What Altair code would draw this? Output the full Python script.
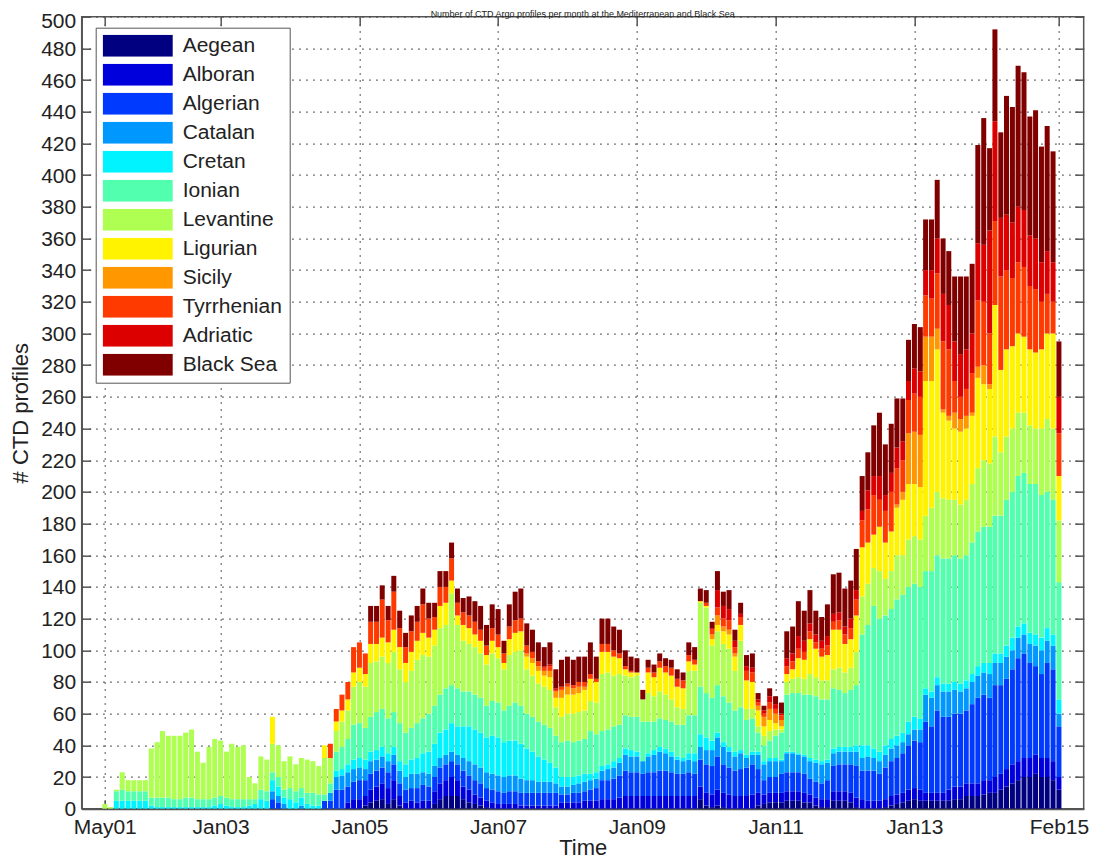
import altair as alt
import pandas as pd

title_text = "Number of CTD Argo profiles per month at the Mediterranean and Black Sea"
regions = ["Aegean", "Alboran", "Algerian", "Catalan", "Cretan", "Ionian",
           "Levantine", "Ligurian", "Sicily", "Tyrrhenian", "Adriatic", "Black Sea"]
colors = ["#000080", "#0000dc", "#003aff", "#0097ff", "#00f3ff", "#51ffae",
          "#aeff51", "#fff300", "#ff9700", "#ff3a00", "#dc0000", "#800000"]
first_month = "2001-05-01"
n_months = 166

aegean = [
    0,0,0,0,0,0,0,0,0,0, 0,0,0,0,0,0,0,0,0,0, 0,0,0,0,0,0,0,0,0,0, 0,0,0,0,0,0,0,0,0,0,
    0,0,0,0,0,2,4,5,6,3, 6,2,0,0,0,0,0,3,6,8, 8,8,6,4,3,2,1,0,0,0, 0,0,0,0,0,0,0,0,0,0,
    0,0,0,0,0,0,0,0,0,0, 0,0,0,0,0,0,0,0,0,0, 0,0,0,6,2,1,2,1,0,0, 0,0,0,2,3,4,4,4,5,5,
    5,4,4,2,1,1,5,5,5,4, 1,0,0,0,0,1,2,3,4,5, 6,5,5,5,5,5,5,6,6,8, 8,8,9,10,10,12,14,16,18,20,
    20,22,20,20,18,12]
alboran = [
    0,0,0,0,0,0,0,0,0,0, 0,0,0,0,0,0,0,0,0,0, 0,0,0,0,0,0,0,0,0,0, 0,0,0,0,0,0,0,0,0,0,
    0,0,4,6,6,6,8,9,10,10, 12,6,4,5,4,5,5,8,10,10, 12,10,8,8,6,5,4,4,3,3, 3,3,2,2,2,2,2,2,2,4,
    4,4,4,5,5,5,6,6,6,7, 8,8,8,8,8,8,8,8,8,8, 8,8,8,8,8,8,10,9,9,8, 8,8,9,8,6,6,6,6,6,6,
    6,6,5,5,5,5,6,6,6,6, 6,6,5,5,5,5,6,6,6,7, 7,7,5,5,5,5,7,8,8,8, 8,8,9,8,10,10,11,12,12,12,
    12,12,12,12,12,8]
algerian = [
    0,0,0,0,0,0,0,0,0,0, 0,0,0,0,0,0,0,0,0,0, 0,0,0,0,0,0,0,0,0,6, 4,0,0,0,0,0,0,0,5,5,
    12,12,10,11,12,10,10,10,10,10, 10,8,8,8,9,10,9,9,10,10, 10,10,10,9,9,9,8,8,8,7, 8,8,8,8,8,8,8,8,8,5,
    5,6,6,6,7,8,12,12,13,14, 16,15,15,14,15,15,16,16,15,14, 14,15,14,17,18,18,21,18,17,16, 17,18,19,15,9,10,10,12,12,12,
    12,12,10,10,10,12,16,17,17,18, 20,18,19,19,17,20,22,23,25,28, 30,30,45,42,52,48,46,46,46,46, 50,54,54,52,58,56,57,60,65,66,
    60,56,53,60,58,32]
catalan = [
    0,0,0,0,0,0,0,0,0,0, 0,0,0,0,0,0,0,0,0,0, 0,0,0,0,0,0,0,0,0,5, 4,3,0,0,2,0,0,0,0,5,
    8,9,9,8,8,7,8,7,7,7, 6,8,8,9,9,8,8,7,6,6, 6,6,8,9,10,10,10,10,10,10, 10,10,9,8,8,7,7,7,6,5,
    5,5,6,6,6,6,6,7,7,8, 10,10,10,8,10,11,12,11,10,9, 8,8,8,8,9,10,12,11,10,9, 10,6,6,9,10,10,10,8,12,12,
    11,11,11,12,12,11,8,8,8,8, 9,8,9,8,8,8,8,8,7,7, 7,8,17,18,16,16,16,15,14,14, 14,14,14,15,14,14,14,12,13,12,
    12,13,15,14,15,8]
cretan = [
    0,0,5,5,5,5,5,5,2,1, 1,1,1,1,1,1,1,1,1,2, 3,2,1,1,1,2,3,6,5,7, 6,4,6,4,5,3,2,2,0,0,
    4,4,5,6,6,6,6,6,6,5, 5,6,8,9,10,12,14,14,16,16, 18,18,20,22,22,22,22,24,24,22, 22,22,22,20,18,16,14,12,10,6,
    6,5,5,5,4,4,3,3,4,3, 4,4,3,0,2,3,3,3,3,2, 2,4,5,8,8,6,3,3,3,3, 2,2,2,2,2,2,2,1,1,1,
    1,1,2,2,2,2,3,3,3,3, 4,8,7,6,6,6,6,6,6,8, 8,7,4,4,5,5,5,5,5,5, 5,6,6,7,6,6,7,8,7,7,
    7,7,8,8,7,9]
ionian = [
    0,0,6,7,6,6,6,6,5,6, 6,6,5,5,6,6,5,5,5,5, 5,5,5,5,5,4,3,6,6,5, 6,5,7,7,6,7,8,7,4,6,
    12,14,16,22,22,20,22,24,24,22, 22,24,20,20,22,22,24,24,24,26, 24,24,22,22,22,22,20,22,22,20, 22,24,24,22,22,22,22,22,20,22,
    23,22,22,22,27,24,22,22,22,21, 21,21,22,25,20,18,18,18,19,20, 21,24,24,30,28,27,30,29,28,26, 27,22,21,12,10,11,14,17,36,37,
    38,38,40,40,39,38,38,36,34,36, 38,70,76,90,84,82,82,86,87,85, 84,83,74,76,77,79,79,80,79,79, 83,85,86,86,87,87,92,92,95,95,
    94,95,90,86,85,74]
levantine = [
    3,1,1,11,7,7,7,7,31,35, 42,39,40,40,41,43,30,23,33,37, 35,29,35,33,34,14,10,21,20,18, 20,18,20,17,19,21,20,18,23,16,
    13,16,18,24,26,26,34,32,33,35, 38,34,32,36,40,40,36,38,42,40, 58,40,32,30,30,28,26,30,28,26, 32,32,35,28,26,24,24,24,18,16,
    17,18,18,18,19,20,36,36,32,32, 25,25,26,14,18,16,17,16,14,11, 10,28,28,53,54,33,34,33,34,25, 42,7,6,4,6,6,4,2,8,9,
    10,10,13,12,12,12,12,14,13,14, 21,24,26,24,30,23,24,28,25,30, 30,30,35,40,40,38,37,35,34,35, 37,40,42,40,50,40,40,40,40,38,
    37,35,42,46,45,39]
ligurian = [
    0,0,0,0,0,0,0,0,0,0, 0,0,0,0,0,0,0,0,0,0, 0,0,0,0,0,0,0,0,0,17, 0,0,0,0,0,0,0,0,8,0,
    6,7,7,9,9,8,12,11,12,13, 14,14,12,12,12,14,12,10,14,14, 8,6,10,10,8,8,6,8,7,4, 10,12,12,8,8,8,7,8,6,12,
    12,12,12,13,14,13,14,13,12,10, 4,3,2,0,13,12,15,14,15,13, 13,6,4,1,1,4,4,8,9,9, 10,18,17,10,6,7,4,2,5,6,
    12,12,22,18,15,16,25,24,18,18, 23,31,26,21,28,23,25,30,35,35, 33,33,85,80,90,54,50,45,46,45, 43,57,48,47,83,52,55,52,50,48,
    48,48,50,54,60,28]
sicily = [
    0,0,0,0,0,0,0,0,0,0, 0,0,0,0,0,0,0,0,0,0, 0,0,0,0,0,0,0,0,0,0, 0,0,0,0,0,0,0,0,0,0,
    0,0,0,0,0,0,0,0,0,0, 0,0,0,0,0,0,0,0,0,0, 0,0,0,0,0,0,0,0,0,0, 0,0,0,2,3,3,3,4,4,5,
    5,4,4,2,0,0,0,0,0,0, 0,0,0,0,0,0,0,0,0,0, 0,0,0,0,0,3,6,3,3,2, 0,0,0,3,6,7,6,4,0,0,
    0,0,0,0,0,0,0,0,0,0, 0,0,0,0,0,0,0,2,5,32, 33,33,28,28,13,2,3,10,8,8, 2,7,12,3,0,0,0,0,0,0,
    0,0,0,0,0,0]
tyrrhenian = [
    0,0,0,0,0,0,0,0,0,0, 0,0,0,0,0,0,0,0,0,0, 0,0,0,0,0,0,0,0,0,0, 0,0,0,0,0,0,0,0,0,9,
    8,10,11,16,16,13,14,14,24,14, 24,12,10,13,12,18,12,8,12,10, 14,8,8,8,8,7,6,8,8,6, 8,8,8,5,4,3,2,3,1,2,
    2,2,3,3,3,2,5,5,4,3, 2,1,0,0,3,3,4,4,5,5, 5,4,3,0,2,3,5,5,6,4, 5,6,6,2,2,4,3,3,5,5,
    6,5,5,4,5,6,5,6,6,7, 10,17,21,25,17,20,25,23,20,21, 24,24,26,24,35,43,42,20,14,17, 25,42,40,32,53,59,50,43,45,44,
    40,40,30,25,20,27]
adriatic = [
    0,0,0,0,0,0,0,0,0,0, 0,0,0,0,0,0,0,0,0,0, 0,0,0,0,0,0,0,0,0,0, 0,0,0,0,0,0,0,0,0,0,
    0,0,0,0,0,0,0,0,0,0, 0,0,0,0,0,0,0,0,0,0, 0,0,0,0,0,0,0,0,0,0, 0,0,0,0,0,0,1,1,1,0,
    0,0,0,0,0,0,0,0,0,0, 0,0,0,0,0,0,0,0,0,0, 0,0,0,0,0,1,11,8,7,4, 2,3,3,2,2,4,3,1,5,5,
    8,7,5,5,5,6,5,5,5,6, 6,6,12,12,15,10,12,13,12,12, 16,16,16,18,22,30,28,25,27,25, 25,36,36,65,63,37,35,35,35,36,
    32,32,25,27,25,23]
black_sea = [
    0,0,0,0,0,0,0,0,0,0, 0,0,0,0,0,0,0,0,0,0, 0,0,0,0,0,0,0,0,0,0, 0,0,0,0,0,0,0,0,0,0,
    0,0,0,0,0,0,10,10,9,9, 10,11,9,10,10,10,10,9,10,10, 10,9,9,12,13,15,13,15,16,8, 14,18,19,14,14,12,12,14,12,17,
    17,16,16,16,20,14,16,16,15,15, 10,9,9,6,5,5,5,5,5,6, 5,8,8,8,8,4,12,9,12,7, 7,7,9,4,3,5,5,7,17,17,
    22,19,21,15,15,20,25,25,24,24, 26,22,24,32,40,32,31,31,27,26, 28,28,32,32,37,35,34,41,49,46, 44,62,80,52,58,54,75,73,89,87,
    75,81,73,79,70,35]

series = [aegean, alboran, algerian, catalan, cretan, ionian, levantine,
          ligurian, sicily, tyrrhenian, adriatic, black_sea]

months = pd.date_range(first_month, periods=n_months, freq="MS")
rows = []
for k, (name, vals) in enumerate(zip(regions, series)):
    for d, v in zip(months, vals):
        if v > 0:
            rows.append({"date": d.strftime("%Y-%m-%d"), "region": name, "order": k, "count": v})
df = pd.DataFrame(rows)

font = "Liberation Sans"
ink = "#222"
frame = "#555"
tick_dates = [(2001, 5), (2003, 1), (2005, 1), (2007, 1), (2009, 1), (2011, 1), (2013, 1), (2015, 2)]
x_ticks = [alt.DateTime(year=y, month=m, date=1, utc=True) for y, m in tick_dates]
y_ticks = list(range(0, 501, 20))
x_scale = alt.Scale(type="utc",
                    domain=[alt.DateTime(year=2001, month=1, date=26, utc=True),
                            alt.DateTime(year=2015, month=5, date=16, utc=True)])
y_scale = alt.Scale(domain=[0, 500], nice=False)

bars = alt.Chart(df).mark_bar(size=5).encode(
    x=alt.X("date:T", scale=x_scale,
            axis=alt.Axis(values=x_ticks, format="%b%y", title="Time", grid=True,
                          gridDash=[1.5, 5.5], gridColor="#444", gridWidth=1.2,
                          ticks=False, labelPadding=8, labelFontSize=21,
                          titleFontSize=22, titlePadding=0, titleFontWeight="normal",
                          domainColor=frame, domainWidth=2, labelColor=ink,
                          titleColor=ink, labelFlush=False)),
    y=alt.Y("count:Q", stack="zero", scale=y_scale,
            axis=alt.Axis(values=y_ticks, title="# CTD profiles",
                          grid=True, gridDash=[1.5, 5.5], gridColor="#444", gridWidth=1.2,
                          ticks=False, labelPadding=6, labelFontSize=21,
                          labelOffset={"condition": {"test": "datum.value >= 500", "value": 5},
                                       "value": 1},
                          titleFontSize=22, titlePadding=8, titleFontWeight="normal",
                          domainColor=frame, domainWidth=1.5, labelColor=ink,
                          titleColor=ink)),
    color=alt.Color("region:N",
                    scale=alt.Scale(domain=regions, range=colors),
                    legend=alt.Legend(orient="none", legendX=14, legendY=11, title=None,
                                      symbolType="M-1,-0.314H1V0.314H-1Z", symbolSize=4900,
                                      clipHeight=22, rowPadding=7, labelFontSize=21,
                                      labelOffset=10, padding=7, strokeColor=frame,
                                      fillColor="white", symbolStrokeWidth=0,
                                      symbolOpacity=1, labelColor=ink, labelFont=font)),
    order=alt.Order("order:Q", sort="ascending"),
)

# inward tick marks on all four sides of the box (MATLAB style)
tick_df = pd.DataFrame({"date": ["2005-01-01"], "count": [0]})

def inner_ticks(x_orient, y_orient):
    xa = alt.Axis(orient=x_orient, values=x_ticks, labels=False, domain=False, grid=False,
                  ticks=True, tickSize=9, offset=-9, tickColor=frame, tickWidth=1.5, title=None)
    ya = alt.Axis(orient=y_orient, values=y_ticks, labels=False, domain=False, grid=False,
                  ticks=True, tickSize=9, offset=-9, tickColor=frame, tickWidth=1.5, title=None)
    return alt.Chart(tick_df).mark_point(opacity=0).encode(
        x=alt.X("date:T", scale=x_scale, axis=xa),
        y=alt.Y("count:Q", scale=y_scale, axis=ya))

ticks_tr = inner_ticks("top", "right")
ticks_bl = inner_ticks("bottom", "left")

# chart title: the reference shows it squeezed against the top edge, so it is
# kept small enough to stay fully inside the picture above the frame
title_df = pd.DataFrame({"t": [title_text]})
title_mark = alt.Chart(title_df).mark_text(
    fontSize=9, baseline="alphabetic", align="center", color=ink, font=font
).encode(text="t:N", x=alt.value(501), y=alt.value(0.8))

chart = alt.layer(bars, ticks_tr, ticks_bl, title_mark).resolve_axis(
    x="independent", y="independent"
).properties(
    width=1002, height=792,
    autosize=alt.AutoSizeParams(type="none"),
    padding={"left": 73.7, "top": 8.7, "right": 6, "bottom": 52},
).configure(font=font).configure_view(stroke=frame, strokeWidth=1.5)

chart.save("out.html", embed_options={"renderer": "svg", "actions": False})
